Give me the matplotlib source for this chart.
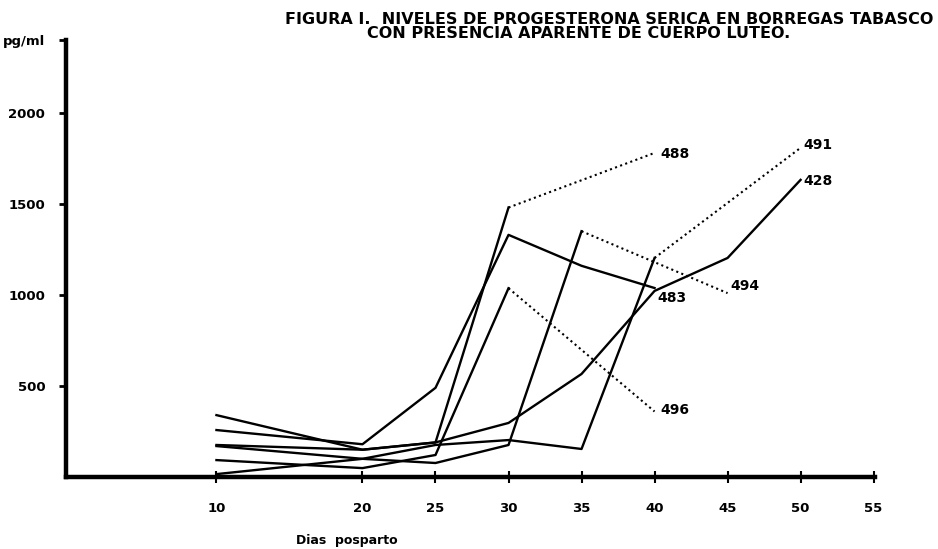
import matplotlib
matplotlib.use("Agg")
import matplotlib.pyplot as plt

# dias posparto / progesterona (pg/ml) por borrega
dias_488 = [10, 20, 25, 30, 40]
prog_488 = [176, 150, 190, 1480, 1780]

dias_483 = [10, 20, 25, 30, 35, 40]
prog_483 = [258, 180, 490, 1330, 1160, 1038]

dias_496 = [10, 20, 25, 30, 40]
prog_496 = [93, 49, 121, 1037, 360]

dias_428 = [10, 20, 25, 30, 35, 40, 45, 50]
prog_428 = [340, 150, 190, 297, 566, 1022, 1203, 1632]

dias_494 = [10, 20, 25, 30, 35, 40, 45]
prog_494 = [170, 100, 77, 176, 1350, 1180, 1010]

dias_491 = [10, 20, 25, 30, 35, 40, 50]
prog_491 = [16, 100, 176, 203, 154, 1203, 1808]

xticks = [10, 20, 25, 30, 35, 40, 45, 50, 55]
yticks = [500, 1000, 1500, 2000, 2400]
ylabels = ["500", "1000", "1500", "2000", "pg/ml"]

titulo1 = "FIGURA I.  NIVELES DE PROGESTERONA SERICA EN BORREGAS TABASCO"
titulo2 = "CON PRESENCIA APARENTE DE CUERPO LUTEO."

fig = plt.figure(figsize=(9.38, 5.49), dpi=100)
ax = fig.add_axes([0.0704, 0.1311, 0.8625, 0.796])

# (dias, valores, indice desde el que va punteada, etiqueta, desplazamiento)
series = [
    (dias_488, prog_488, 3, "488", (4, -1)),
    (dias_483, prog_483, None, "483", (2, -7)),
    (dias_496, prog_496, 3, "496", (4, 1)),
    (dias_428, prog_428, None, "428", (2, -1)),
    (dias_494, prog_494, 4, "494", (2, 5)),
    (dias_491, prog_491, 5, "491", (2, 2)),
]

for d, p, k, nombre, off in series:
    if k is None:
        ax.plot(d, p, color="black", lw=1.7)
    else:
        ax.plot(d[:k + 1], p[:k + 1], color="black", lw=1.7)
        ax.plot(d[k:], p[k:], color="black", lw=1.5, ls=(0, (1, 1.6)))
    ax.annotate(nombre, (d[-1], p[-1]), xytext=off, textcoords="offset points",
                fontsize=10, fontweight="heavy", va="center", ha="left")

ax.set_xlim(-0.3, 55.1)
ax.set_ylim(0, 2400)

for s in ["top", "right"]:
    ax.spines[s].set_visible(False)
ax.spines["left"].set_linewidth(3.2)
ax.spines["bottom"].set_linewidth(3.2)

ax.set_xticks(xticks)
ax.set_xticklabels([str(x) for x in xticks], fontsize=9.5, fontweight="heavy")
ax.tick_params(axis="x", direction="inout", length=8, width=1.5, pad=14)

ax.set_yticks(yticks)
ax.set_yticklabels(ylabels, fontsize=9.5, fontweight="heavy")
ax.tick_params(axis="y", direction="out", length=5, width=2, pad=10)

fig.text(0.37, 0.016, "Dias  posparto", fontsize=9, fontweight="heavy",
         ha="center", va="center")

fig.text(0.304, 0.978, titulo1, fontsize=11.5, fontweight="heavy",
         ha="left", va="top")
fig.text(0.391, 0.953, titulo2, fontsize=11.5, fontweight="heavy",
         ha="left", va="top")

fig.savefig("out.png", dpi=100)
